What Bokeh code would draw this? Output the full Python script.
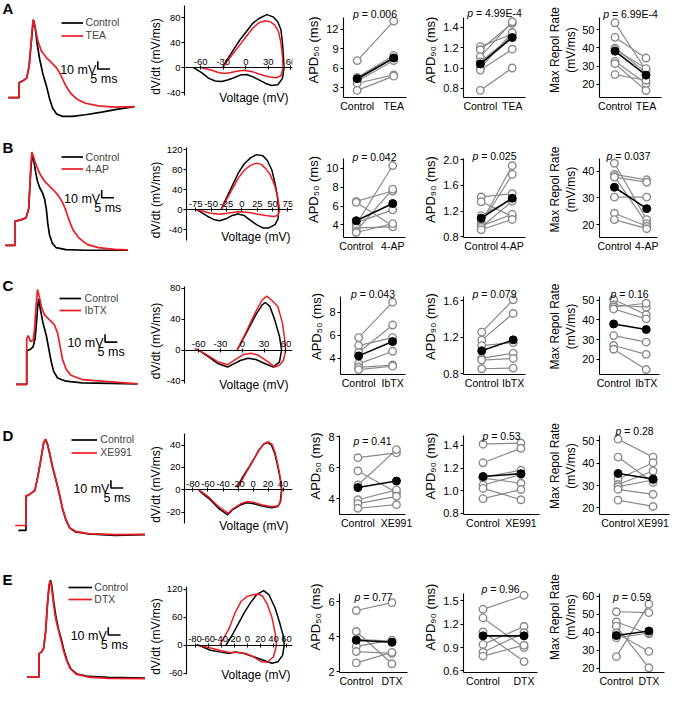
from math import pi
from bokeh.plotting import figure
from bokeh.models import (Range1d, LinearAxis, Label, FixedTicker, Legend, LegendItem,
                          PrintfTickFormatter, ColumnDataSource)
from bokeh.layouts import row, column
from bokeh.embed import file_html
from bokeh.resources import INLINE

FONT = "Liberation Sans"
BLACK = "#000000"
RED = "#ec1c24"
GRAY = "#8a8a8a"

LETTERS = ["A", "B", "C", "D", "E"]
DRUGS = ["TEA", "4-AP", "IbTX", "XE991", "DTX"]

# ---------------- action potential traces (time ms, voltage mV) ----------------
AP_A_CTRL_T = [0, 4.4, 4.4, 6.1, 7.5, 8.5, 9.2, 9.9, 10.4, 11.1, 11.7, 12.8, 14.1, 15.5, 16.8, 18.1, 19.7, 22.1, 26.1, 31.5, 38.1, 44.8, 51.5]
AP_A_CTRL_V = [-70, -70, -50.9, -48, -45, -29.3, -4.3, 18.8, 28.3, 16.6, 0, -20.9, -39.6, -54.3, -70.9, -83.4, -90.9, -93.8, -93.8, -91.8, -88.4, -84.6, -81.3]
AP_A_DRUG_T = [0, 4.4, 4.4, 6.1, 7.5, 8.5, 9.2, 9.8, 10.1, 11.1, 12.1, 13.5, 15.5, 17.5, 19.5, 20.8, 22.1, 23.5, 25.5, 28.1, 31.5, 36.8, 43.5, 51.5]
AP_A_DRUG_V = [-70, -70, -50.9, -48, -45, -29.3, -4.3, 20, 30, 17, 2, -10.5, -18.8, -25, -31.3, -37.5, -45.9, -55, -64.6, -72.1, -77.1, -80.5, -82.1, -81.3]

AP_B_CTRL_T = [-1.2, 2.8, 2.8, 4.8, 7.2, 8.3, 8.8, 9.3, 9.9, 10.4, 11.1, 11.9, 12.8, 13.9, 14.8, 15.5, 16.1, 16.8, 17.9, 19.5, 23.5, 31.5, 48.8]
AP_B_CTRL_V = [-70, -70, -38.75, -37.5, -34.6, -22.9, 6.25, 33.3, 45.8, 39.6, 25, 12.5, 4.2, -2.1, -10.4, -22.9, -41.7, -56.25, -66.7, -72.9, -75.4, -76.25, -76.25]
AP_B_DRUG_T = [-1.2, 2.8, 2.8, 4.8, 7.2, 8.3, 8.8, 9.2, 9.6, 10.1, 10.9, 11.9, 13.1, 14.8, 16.8, 18.8, 20.5, 22.1, 23.5, 24.8, 26.4, 28.8, 32.1, 36.8, 43.5, 48.8]
AP_B_DRUG_V = [-70, -70, -38.75, -37.5, -34.6, -22.9, 6.25, 35, 50, 45.8, 37.5, 29.2, 20.8, 12.5, 6.25, 0, -6.25, -14.6, -25, -37.5, -50, -60.4, -68.75, -72.9, -75, -75.8]

AP_C_CTRL_T = [3.2, 7.5, 7.5, 9.1, 10.1, 10.9, 11.5, 12, 12.4, 13.1, 14.1, 15.5, 16.5, 17.5, 18.5, 20.1, 23.5, 30.1, 52.8]
AP_C_CTRL_V = [-70, -70, -27.1, -25, -22.1, -11.7, 9.2, 30, 39.2, 25.8, 9.2, -7.5, -24.2, -40.8, -53.3, -61.7, -65.8, -67.9, -69.2]
AP_C_DRUG_T = [3.2, 7.5, 7.5, 8.1, 9.1, 10.1, 10.7, 11.2, 11.9, 12.5, 13.5, 14.8, 16.8, 18.8, 20.1, 21.1, 22.1, 23.5, 25.5, 30.1, 52.8]
AP_C_DRUG_V = [-70, -70, -11.7, -7.5, -15, -13.75, 0, 25, 51.25, 43.75, 29.2, 18.75, 12.5, 6.25, -4.2, -20.8, -37.5, -50, -58.3, -63.75, -69.2]

AP_D_CTRL_T = [4.1, 7.2, 7.2, 8.8, 10.8, 12.1, 13.5, 14.4, 15.2, 15.9, 16.8, 18.1, 19.5, 20.8, 22.1, 23.5, 25.1, 27.5, 32.8, 43.5, 56]
AP_D_CTRL_V = [-76.25, -76.25, -32.5, -30, -25.4, -6.7, 18.3, 35, 40, 35, 22.5, 3.75, -12.9, -29.6, -48.3, -62.9, -73.3, -78.3, -80.8, -82.5, -81.7]
AP_D_DRUG_T = [2.8, 7.2, 7.2, 8.8, 10.8, 12.1, 13.5, 14.4, 15.1, 15.7, 16.8, 18.1, 19.5, 20.8, 22.1, 23.5, 25.1, 27.5, 32.8, 43.5, 56]
AP_D_DRUG_V = [-70, -70, -32.5, -30, -25.4, -6.7, 18.3, 35.4, 40.4, 35.8, 23.3, 4.6, -12.1, -29.2, -47.9, -62.5, -72.9, -77.5, -80.4, -81.7, -81.25]

AP_E_CTRL_T = [7.7, 12.5, 12.5, 13.6, 14.4, 15.2, 16, 16.7, 17.2, 17.7, 18.5, 19.5, 20.5, 21.6, 22.7, 23.9, 25.5, 28.1, 32.8, 40.8, 56]
AP_E_CTRL_V = [-70, -70, -40, -37.9, -32.9, -12.9, 24.6, 47.5, 53.75, 47.5, 26.7, 5.8, -8.75, -21.25, -35.8, -48.3, -59.6, -66.25, -69.2, -70.4, -71.25]
AP_E_DRUG_T = [7.7, 12.5, 12.5, 13.6, 14.4, 15.2, 16, 16.6, 17.1, 17.6, 18.4, 19.3, 20.3, 21.3, 22.4, 23.6, 25.2, 27.7, 32.8, 40.8, 56]
AP_E_DRUG_V = [-70, -70, -40, -37.9, -32.9, -12.9, 24.6, 48, 52.5, 46.25, 24.6, 4.6, -7.9, -20.4, -34.6, -47.1, -58.75, -66.25, -70, -71.7, -72.1]

SCALE_MV = 10
SCALE_MS = 5

# ---------------- phase plots (voltage mV, dV/dt mV/ms) ----------------
PH_A_CTRL_V = [-30.4, -24.2, -15.8, -7.5, 0.8, 9.2, 17.5, 27.9, 36.25, 42.5, 46.7, 48.75, 50, 50.8, 48.75, 42.5, 34.2, 25.8, 17.5, 9.2, 0.8, -7.5, -15.8, -24.2, -32.5, -40.8, -49.2, -57.5, -65.8, -70]
PH_A_CTRL_D = [1, 14, 29.6, 45.2, 58.1, 71.1, 78.9, 85.1, 81.5, 73.7, 60.7, 40, 19.2, 0, -17.1, -27.5, -28.5, -24.9, -19.7, -14.5, -10.9, -11.9, -16.1, -19.7, -22.3, -21.3, -17.1, -9.3, -2.6, 0]
PH_A_DRUG_V = [-30.4, -24.2, -15.8, -7.5, 0.8, 9.2, 17.5, 25.8, 32.1, 38.3, 43.3, 46.7, 48.75, 49.6, 46.7, 40.4, 30, 19.6, 9.2, -3.3, -11.7, -20, -28.3, -36.7, -45, -53.3, -61.7]
PH_A_DRUG_D = [0, 11.4, 24.4, 37.4, 50.3, 63.3, 72.1, 75.3, 73.7, 68.5, 58.1, 40, 19.2, 0, -13, -16.1, -14.5, -10.9, -6.7, -4.2, -5.7, -7.8, -9.3, -7.8, -4.2, -1.6, 1]

PH_B_CTRL_V = [-33.5, -26, -16, -6, 4, 14, 24, 34, 41.5, 49, 54, 58, 60, 59, 54, 44, 34, 24, 14, 4, -6, -16, -26, -36, -46, -56, -66, -73.5]
PH_B_CTRL_D = [1.3, 20.8, 46.8, 72.8, 92.3, 104, 110.5, 108.6, 98.8, 79.3, 53.3, 27.3, 0, -18.2, -29.9, -36.4, -36.4, -29.9, -21.5, -11.7, -8.45, -11.7, -18.2, -22.1, -19.5, -13, -5.2, 0]
PH_B_DRUG_V = [-33.5, -26, -16, -6, 4, 14, 24, 31.5, 39, 46.5, 54, 59, 61.5, 59, 51.5, 39, 24, 9, -6, -21, -36, -51, -63.5, -73.5]
PH_B_DRUG_D = [0, 17.6, 40.3, 63, 79.3, 89, 93.6, 91, 82.6, 69.6, 46.8, 20.8, 0, -11.7, -13.7, -11.7, -8.45, -5.2, -3.9, -6.5, -9.1, -7.15, -2.6, 0]

PH_C_CTRL_V = [-7.1, 5.8, 18.7, 27.3, 31.6, 38, 44.5, 51, 54, 51, 42.3, 31.6, 18.7, 8, -2.8, -15.7, -20, -32.9, -45.8, -58.7, -63]
PH_C_CTRL_D = [0, 22.5, 45.8, 58.5, 61.6, 56.5, 39.4, 18.3, 0, -15.6, -22, -17.8, -12.2, -10.6, -13.5, -19.8, -22, -17.8, -9.3, -0.8, 0]
PH_C_DRUG_V = [-7.1, 5.8, 18.7, 27.3, 33.5, 40, 48.8, 55.2, 58.3, 59.6, 56.5, 51, 44.5, 35.9, 23, 12.3, 1.5, -11.4, -20, -32.9, -45.8, -58.7, -65]
PH_C_DRUG_D = [0, 24.6, 50, 64.8, 69.9, 64.8, 56.5, 35.2, 14, -0.8, -13.5, -19.8, -22, -15.6, -7.1, -4.2, -5.9, -13.5, -19.1, -15.6, -8, -0.8, 2]

PH_D_CTRL_V = [-21.25, -12.9, -4.6, 1.7, 7.9, 14.2, 19.6, 24.6, 28.75, 32.9, 36.25, 37.9, 36.25, 32.9, 24.6, 12.1, -0.4, -8.75, -17.1, -27.5, -33.75, -46, -58.75, -67, -72.5]
PH_D_CTRL_D = [2.3, 12.5, 21.2, 28.4, 35.7, 40.9, 42.3, 40, 32.8, 21.1, 9.6, 0, -10.7, -15, -16, -14.5, -12.2, -11.6, -13.6, -18, -22.3, -16.5, -7.8, -3.5, 0]
PH_D_DRUG_V = [-20, -11.5, -3.5, 2.5, 9, 15, 20.5, 25.5, 29.5, 33.5, 36.5, 38.5, 37, 33.5, 25, 12.5, 0, -8, -16.5, -27, -33, -45, -58, -66, -72.5]
PH_D_DRUG_D = [2.3, 12.8, 21.8, 29, 36.5, 41.5, 43, 40.5, 33, 21, 9.5, 0, -10, -14.2, -15.2, -13.5, -11, -10.5, -12.5, -17, -21, -15.5, -7, -3, 0]

PH_E_CTRL_V = [-32.8, -23.5, -14.1, -4.7, 4.7, 14.1, 24.9, 32.9, 42.3, 49.3, 55.4, 56.3, 54, 46.9, 37.6, 23.5, 9.4, -4.7, -18.7, -28.2, -42.3, -56.3, -70.4, -77.5]
PH_E_CTRL_D = [0, 20.9, 45.3, 69.7, 90.6, 108, 116.5, 108, 80.1, 48.8, 17.4, 0, -20.9, -34.9, -38.3, -31.4, -24.4, -17.4, -14, -17.4, -14, -10.5, -2.1, 1.5]
PH_E_DRUG_V = [-42.3, -28.2, -18.7, -9.4, 0, 9.4, 16.4, 23.5, 30.5, 37.6, 42.3, 44.6, 39.9, 30.5, 21.1, 9.4, -2.3, -14.1, -28.2, -42.3, -56.3, -70.4, -76]
PH_E_DRUG_D = [0, 34.9, 69.7, 94.1, 104.6, 108, 109.4, 104.6, 87.2, 59.2, 27.9, 0, -24.4, -36.1, -34.9, -24.4, -17.4, -15.3, -15.3, -10.5, -5.6, -1.5, 0]

PH_XTICKS = [[-60, -30, 0, 30, 60], [-75, -50, -25, 0, 25, 50, 75], [-60, -30, 0, 30, 60],
             [-80, -60, -40, -20, 0, 20, 40], [-80, -60, -40, -20, 0, 20, 40, 60]]
PH_YTICKS = [[-40, 0, 40, 80], [-40, 0, 40, 80, 120], [-40, 0, 40, 80], [-20, 0, 20, 40], [-60, 0, 60, 120]]
PH_XRANGE = [(-81.6, 62.1), (-90, 82.5), (-79.4, 69), (-91.25, 52.5), (-93, 69)]
PH_YRANGE = [(-45.2, 99.7), (-62.4, 124.9), (-43.6, 82.3), (-30.4, 50.4), (-62.8, 125.5)]

# ---------------- paired data ----------------
APD50_A_CTRL = [7.2, 4.6, 4.3, 4.0, 3.7, 2.6]
APD50_A_DRUG = [13.3, 8.0, 7.6, 7.2, 5.0, 4.8]
APD50_A_MEAN = [4.4, 7.6]
APD90_A_CTRL = [1.21, 1.18, 1.11, 1.06, 1.00, 0.98, 0.78]
APD90_A_DRUG = [1.335, 1.44, 1.455, 1.315, 1.35, 1.185, 1.0]
APD90_A_MEAN = [1.04, 1.30]
MRR_A_CTRL = [53.8, 45.8, 39.9, 39.2, 32.6, 31.3, 25.3]
MRR_A_DRUG = [27.7, 34.4, 26.4, 28.6, 20.4, 16.5, 22.2]
MRR_A_MEAN = [38.2, 25.0]

APD50_B_CTRL = [6.5, 6.4, 4.25, 4.07, 3.7, 3.37, 3.2]
APD50_B_DRUG = [7.6, 3.9, 5.6, 10.3, 3.8, 7.8, 4.14]
APD50_B_MEAN = [4.45, 6.27]
APD90_B_CTRL = [1.42, 1.345, 1.13, 1.02, 1.0, 0.97, 0.95, 0.91]
APD90_B_DRUG = [1.47, 1.12, 1.385, 1.905, 1.77, 1.15, 1.355, 1.07]
APD90_B_MEAN = [1.09, 1.40]
MRR_B_CTRL = [43.0, 38.8, 38.0, 37.8, 30.3, 24.3, 21.9]
MRR_B_DRUG = [21.9, 36.8, 20.4, 35.9, 30.3, 19.4, 18.5]
MRR_B_MEAN = [34.0, 26.0]

APD50_C_CTRL = [5.8, 5.1, 4.5, 3.5, 3.2, 3.0]
APD50_C_DRUG = [8.9, 5.8, 6.9, 4.6, 3.4, 3.3]
APD50_C_MEAN = [4.2, 5.45]
APD90_C_CTRL = [1.255, 1.167, 1.107, 0.966, 0.948, 0.853]
APD90_C_DRUG = [1.61, 1.46, 1.14, 1.025, 0.966, 0.86]
APD90_C_MEAN = [1.05, 1.17]
MRR_C_CTRL = [50.3, 47.5, 46.5, 45.5, 32.0, 27.0, 25.1]
MRR_C_DRUG = [42.6, 46.4, 48.4, 40.5, 28.7, 22.5, 14.8]
MRR_C_MEAN = [37.9, 35.1]

APD50_D_CTRL = [6.65, 5.8, 4.9, 3.95, 3.7, 3.4]
APD50_D_DRUG = [6.96, 4.42, 7.17, 4.58, 4.17, 3.63]
APD50_D_MEAN = [4.73, 5.15]
APD90_D_CTRL = [1.41, 1.246, 1.12, 1.11, 1.05, 1.02, 0.93]
APD90_D_DRUG = [1.42, 1.374, 1.18, 1.066, 1.143, 0.92, 1.01]
APD90_D_MEAN = [1.125, 1.15]
MRR_D_CTRL = [50.7, 42.7, 32.9, 30.5, 29.5, 28.3, 23.5]
MRR_D_DRUG = [42.7, 31.4, 40.2, 36.5, 32.5, 26.1, 20.7]
MRR_D_MEAN = [35.4, 32.9]

APD50_E_CTRL = [5.5, 4.3, 3.85, 3.45, 3.15, 2.5]
APD50_E_DRUG = [5.95, 2.45, 3.75, 3.8, 3.05, 3.1]
APD50_E_MEAN = [3.8, 3.68]
APD90_E_CTRL = [1.39, 1.28, 1.10, 0.94, 0.84, 0.79]
APD90_E_DRUG = [1.57, 0.90, 0.72, 1.17, 1.09, 0.93]
APD90_E_MEAN = [1.05, 1.05]
MRR_E_CTRL = [51.4, 45.7, 43.4, 39.6, 36.9, 26.5]
MRR_E_DRUG = [50.9, 39.2, 20.3, 29.4, 39.6, 55.6]
MRR_E_MEAN = [38.2, 40.7]

PVALS = [["0.006", "4.99E-4", "6.99E-4"], ["0.042", "0.025", "0.037"], ["0.043", "0.079", "0.16"],
         ["0.41", "0.53", "0.28"], ["0.77", "0.96", "0.59"]]

PAIR_TICKS = [[[3, 6, 9, 12], [0.8, 1.0, 1.2, 1.4], [20, 30, 40, 50]],
              [[4, 6, 8, 10], [0.8, 1.2, 1.6, 2.0], [20, 30, 40]],
              [[4, 6, 8], [0.8, 1.2, 1.6], [20, 30, 40, 50]],
              [[4, 6, 8], [0.8, 1.0, 1.2, 1.4], [20, 30, 40, 50]],
              [[2, 4, 6], [0.6, 0.9, 1.2, 1.5], [20, 30, 40, 50, 60]]]
PAIR_YRANGE = [[(1.5, 13.9), (0.71, 1.50), (12.7, 56.9)],
               [(2.67, 11.0), (0.79, 2.01), (15.2, 44.6)],
               [(2.57, 9.43), (0.79, 1.65), (12.3, 52.0)],
               [(3.0, 8.1), (0.79, 1.49), (17.1, 52.5)],
               [(1.95, 6.46), (0.58, 1.59), (17.7, 61.4)]]

# ---------------- layout (reference pixels) ----------------
S = 672 / 688.0
def P(v):
    return int(round(v * S))

ROW_TOP = [0, 142, 283, 425, 572, 705]
COL_X = [0, 148, 310, 430, 557, 688]
MS_PER_PX = 0.4
MV_PER_PX = 1.25
AP_BASE_Y = [99.3, 109, 110.3, 112.3, 120.3]
LEGEND_POS = [(62, 85, 88, 23, 36), (62, 85, 88, 19, 30.7), (60, 83, 87, 22, 34.3),
              (73, 100, 103, 25, 38.3), (70, 95, 97, 28, 40.7)]
SCALE_POS = [(99.3, 70), (103.3, 60), (106.7, 67), (112.7, 74), (110, 77.3)]
LETTER_Y = [8, 8, 9, 20, 20]
PH_FRAME_Y = [(5, 98), (8, 104), (10, 109), (18, 111), (28, 118)]
PH_EXT = 12
VOLT_DY = [2, -4, 1, 2, 0]
PAIR_FRAME_Y = [(17, 99), (20, 101), (20, 100), (20, 101), (35, 115.7)]
PAIR_TOP = 2
PAIR_X = [[(347, 416, 362, 402), (468, 538, 487, 523), (605, 677, 623, 659)],
          [(347, 415, 361, 401), (468, 538, 488, 523), (603, 673, 621, 660)],
          [(348, 415, 366.7, 401.7), (468, 537, 488.3, 523.3), (605, 675, 621.5, 659.5)],
          [(347, 415, 366, 405.7), (473, 552, 493.3, 532.7), (607, 685, 627.7, 666.7)],
          [(347, 417, 364.3, 401), (473, 550, 493.3, 536), (608, 680, 626.7, 662.7)]]
P_DY = [[3, 4, 3], [2.5, 3, 3], [2, 2, 2], [-6, -1, 4], [-3, 5, -3]]

CW = {'A': .667, 'P': .667, 'D': .722, 'E': .667, ' ': .278, '\u00a0': .278, '.': .278,
      '=': .584, '-': .333, '(': .333, ')': .333, 'm': .833, 's': .5, 'p': .556}
def tw(s, fs):
    return sum(CW.get(c, .556) for c in s) * fs


def base_fig(W, H, xr, yr, bl, br, bt, bb, xloc=None, yloc=None):
    p = figure(width=W, height=H, x_range=Range1d(*xr), y_range=Range1d(*yr),
               output_backend="svg", toolbar_location=None,
               x_axis_location=xloc, y_axis_location=yloc, frame_align=False,
               min_border_left=bl, min_border_right=br, min_border_top=bt, min_border_bottom=bb)
    p.xgrid.visible = False
    p.ygrid.visible = False
    p.outline_line_color = None
    p.background_fill_color = "white"
    p.border_fill_color = "white"
    return p


def style_axis(ax, fs):
    ax.axis_line_color = BLACK
    ax.axis_line_width = 1.1
    ax.major_tick_line_color = BLACK
    ax.major_tick_in = 0
    ax.major_tick_out = 3
    ax.minor_tick_line_color = None
    ax.major_label_text_font = FONT
    ax.major_label_text_font_size = fs
    ax.major_label_text_color = BLACK
    ax.major_label_standoff = 2
    ax.axis_label_text_font = FONT
    ax.axis_label_text_font_style = "normal"
    ax.axis_label_text_color = BLACK
    ax.axis_label_standoff = 2


def ap_fig(r, ct, cv, dt, dv):
    W = P(COL_X[1]) - P(COL_X[0])
    H = P(ROW_TOP[r + 1]) - P(ROW_TOP[r])
    Hr = ROW_TOP[r + 1] - ROW_TOP[r]
    yb = AP_BASE_Y[r]
    yr = (-70 - (Hr - yb) * MV_PER_PX, -70 + yb * MV_PER_PX)
    xr = ((COL_X[0] - 8) * MS_PER_PX, (COL_X[1] - 8) * MS_PER_PX)
    p = base_fig(W, H, xr, yr, 0, 0, 0, 0)
    l1 = p.line(ct, cv, line_color=BLACK, line_width=1.7)
    l2 = p.line(dt, dv, line_color=RED, line_width=1.7)
    lx0, lx1, tx, y1, y2 = LEGEND_POS[r]
    ih = (y2 - y1) * S
    leg = Legend(items=[LegendItem(label="Control", renderers=[l1]),
                        LegendItem(label=DRUGS[r], renderers=[l2])],
                 location=(lx0 * S, H - (y2 * S + ih / 2)), orientation="vertical",
                 glyph_width=int(round((lx1 - lx0) * S)), glyph_height=int(round(ih)),
                 label_height=int(round(ih)), label_standoff=int(round((tx - lx1) * S)),
                 spacing=0, padding=0, margin=0, background_fill_alpha=0,
                 border_line_color=None, label_text_font=FONT, label_text_font_size="10.5px")
    p.add_layout(leg)
    cx, cy = SCALE_POS[r]
    x0 = (cx - 8) * MS_PER_PX
    y0 = -70 + (yb - cy) * MV_PER_PX
    p.line([x0, x0, x0 + SCALE_MS], [y0 + SCALE_MV, y0, y0], line_color=BLACK, line_width=1.6)
    p.add_layout(Label(x=x0, y=y0, x_offset=-1.5, y_offset=-1, text=f"{SCALE_MV} mV",
                       text_align="right", text_baseline="alphabetic", text_font=FONT,
                       text_font_size="12.5px", text_color=BLACK))
    p.add_layout(Label(x=x0 + SCALE_MS / 2, y=y0, y_offset=-10 * S, text=f"{SCALE_MS} ms",
                       text_align="center", text_baseline="middle", text_font=FONT,
                       text_font_size="12.5px", text_color=BLACK))
    p.add_layout(Label(x=xr[0], y=yr[1], x_offset=2 * S, y_offset=-LETTER_Y[r] * S,
                       text=LETTERS[r], text_align="left", text_baseline="middle",
                       text_font=FONT, text_font_size="15px", text_font_style="bold",
                       text_color=BLACK))
    return p


def phase_fig(r, cV, cD, dV, dD):
    W = P(COL_X[2]) - P(COL_X[1])
    H = P(ROW_TOP[r + 1]) - P(ROW_TOP[r])
    fl, fr = 184, 299
    ft, fb = PH_FRAME_Y[r]
    top = ROW_TOP[r]
    xr, yr = PH_XRANGE[r], PH_YRANGE[r]
    ppu = (fb - ft) / (yr[1] - yr[0])
    y0e = yr[0] - PH_EXT / ppu
    bl = P(fl) - P(COL_X[1])
    br = P(COL_X[2]) - P(fr)
    bt = P(top + ft) - P(top)
    bb = P(ROW_TOP[r + 1]) - P(top + fb + PH_EXT)
    p = base_fig(W, H, xr, (y0e, yr[1]), bl, br, bt, bb, xloc=None, yloc="left")
    ya = p.yaxis[0]
    style_axis(ya, "9.5px")
    ya.ticker = FixedTicker(ticks=PH_YTICKS[r])
    ya.formatter = PrintfTickFormatter(format="%d")
    ya.bounds = yr
    ya.axis_label = "dV/dt (mV/ms)"
    ya.axis_label_text_font_size = "12px"
    ya.axis_label_standoff = 1
    ya.major_label_standoff = 1
    xa = LinearAxis(fixed_location=0, ticker=FixedTicker(ticks=PH_XTICKS[r]),
                    formatter=PrintfTickFormatter(format="%d"))
    style_axis(xa, "9.5px")
    xa.major_tick_out = 2
    xa.major_tick_in = 2
    xa.major_label_standoff = 1
    p.add_layout(xa, "above")
    p.line(cV, cD, line_color=BLACK, line_width=1.5)
    p.line(dV, dD, line_color=RED, line_width=1.5)
    p.add_layout(Label(x=xr[0], y=yr[0], x_offset=(255 - fl) * S, y_offset=-VOLT_DY[r] * S,
                       text="Voltage (mV)", text_align="center", text_baseline="middle",
                       text_font=FONT, text_font_size="12px", text_color=BLACK))
    return p


def paired_fig(r, k, ctrl, drug, mean):
    c0, c1 = COL_X[2 + k], COL_X[3 + k]
    fl, fr, px0, px1 = PAIR_X[r][k]
    ft, fb = PAIR_FRAME_Y[r]
    top = ROW_TOP[r]
    W = P(c1) - P(c0)
    H = P(ROW_TOP[r + 1]) - P(top)
    bl = P(fl) - P(c0)
    br = P(c1) - P(fr)
    bt = P(top + PAIR_TOP) - P(top)
    bb = P(ROW_TOP[r + 1]) - P(top + fb)
    ppu = px1 - px0
    xs = 1 - (px0 - fl) / ppu
    xe = xs + (fr - fl) / ppu
    yr = PAIR_YRANGE[r][k]
    ppuy = (fb - ft) / (yr[1] - yr[0])
    y1e = yr[1] + (ft - PAIR_TOP) / ppuy
    p = base_fig(W, H, (xs, xe), (yr[0], y1e), bl, br, bt, bb, xloc="below", yloc="left")
    ya = p.yaxis[0]
    style_axis(ya, "11px")
    ya.ticker = FixedTicker(ticks=PAIR_TICKS[r][k])
    ya.formatter = PrintfTickFormatter(format="%.1f" if k == 1 else "%d")
    ya.bounds = yr
    xa = p.xaxis[0]
    style_axis(xa, "10.5px")
    xa.major_tick_out = 0
    xa.ticker = FixedTicker(ticks=[1, 2])
    xa.major_label_overrides = {1: "Control", 2: DRUGS[r]}
    xa.major_label_standoff = 2

    if k < 2:
        ya.axis_label = "APD\u2085\u2080 (ms)" if k == 0 else "APD\u2089\u2080 (ms)"
        ya.axis_label_text_font_size = "13px"
    else:
        ya.axis_label = "(mV/ms)"
        ya.axis_label_text_font_size = "12px"
        ya.axis_label_standoff = 1
        ex = LinearAxis(ticker=FixedTicker(ticks=[]), axis_label="Max Repol Rate")
        style_axis(ex, "11px")
        ex.axis_line_color = None
        ex.major_tick_line_color = None
        ex.major_tick_out = 0
        ex.major_label_standoff = 0
        ex.axis_label_standoff = 0
        ex.axis_label_text_font_size = "12px"
        ex.bounds = yr
        p.add_layout(ex, "left")

    n = len(ctrl)
    src = ColumnDataSource(dict(x0=[1] * n, x1=[2] * n, c=ctrl, d=drug))
    p.segment(x0="x0", y0="c", x1="x1", y1="d", source=src, line_color=GRAY, line_width=1.2)
    p.scatter(x="x0", y="c", source=src, marker="circle", size=7.5, line_color=GRAY,
              fill_color="white", line_width=1.4)
    p.scatter(x="x1", y="d", source=src, marker="circle", size=7.5, line_color=GRAY,
              fill_color="white", line_width=1.4)
    p.line([1, 2], mean, line_color=BLACK, line_width=1.6)
    p.scatter([1, 2], mean, marker="circle", size=8, line_color=BLACK, fill_color=BLACK)

    # p-value
    xc = (xs + xe) / 2
    fs = 10.5
    rest = "\u00a0= " + PVALS[r][k]
    wp, wr = tw("p", fs), tw(rest, fs)
    split = -(wp + wr) / 2 + wp
    ydy = P_DY[r][k] * S
    p.add_layout(Label(x=xc, y=yr[1], x_offset=split, y_offset=ydy, text="p",
                       text_align="right", text_baseline="middle", text_font=FONT,
                       text_font_size=f"{fs}px", text_font_style="italic", text_color=BLACK))
    p.add_layout(Label(x=xc, y=yr[1], x_offset=split, y_offset=ydy, text=rest,
                       text_align="left", text_baseline="middle", text_font=FONT,
                       text_font_size=f"{fs}px", text_color=BLACK))
    return p


AP = [(AP_A_CTRL_T, AP_A_CTRL_V, AP_A_DRUG_T, AP_A_DRUG_V),
      (AP_B_CTRL_T, AP_B_CTRL_V, AP_B_DRUG_T, AP_B_DRUG_V),
      (AP_C_CTRL_T, AP_C_CTRL_V, AP_C_DRUG_T, AP_C_DRUG_V),
      (AP_D_CTRL_T, AP_D_CTRL_V, AP_D_DRUG_T, AP_D_DRUG_V),
      (AP_E_CTRL_T, AP_E_CTRL_V, AP_E_DRUG_T, AP_E_DRUG_V)]
PH = [(PH_A_CTRL_V, PH_A_CTRL_D, PH_A_DRUG_V, PH_A_DRUG_D),
      (PH_B_CTRL_V, PH_B_CTRL_D, PH_B_DRUG_V, PH_B_DRUG_D),
      (PH_C_CTRL_V, PH_C_CTRL_D, PH_C_DRUG_V, PH_C_DRUG_D),
      (PH_D_CTRL_V, PH_D_CTRL_D, PH_D_DRUG_V, PH_D_DRUG_D),
      (PH_E_CTRL_V, PH_E_CTRL_D, PH_E_DRUG_V, PH_E_DRUG_D)]
PAIRS = [[(APD50_A_CTRL, APD50_A_DRUG, APD50_A_MEAN), (APD90_A_CTRL, APD90_A_DRUG, APD90_A_MEAN), (MRR_A_CTRL, MRR_A_DRUG, MRR_A_MEAN)],
         [(APD50_B_CTRL, APD50_B_DRUG, APD50_B_MEAN), (APD90_B_CTRL, APD90_B_DRUG, APD90_B_MEAN), (MRR_B_CTRL, MRR_B_DRUG, MRR_B_MEAN)],
         [(APD50_C_CTRL, APD50_C_DRUG, APD50_C_MEAN), (APD90_C_CTRL, APD90_C_DRUG, APD90_C_MEAN), (MRR_C_CTRL, MRR_C_DRUG, MRR_C_MEAN)],
         [(APD50_D_CTRL, APD50_D_DRUG, APD50_D_MEAN), (APD90_D_CTRL, APD90_D_DRUG, APD90_D_MEAN), (MRR_D_CTRL, MRR_D_DRUG, MRR_D_MEAN)],
         [(APD50_E_CTRL, APD50_E_DRUG, APD50_E_MEAN), (APD90_E_CTRL, APD90_E_DRUG, APD90_E_MEAN), (MRR_E_CTRL, MRR_E_DRUG, MRR_E_MEAN)]]

rows = []
for r in range(5):
    figs = [ap_fig(r, *AP[r]), phase_fig(r, *PH[r])]
    for k in range(3):
        figs.append(paired_fig(r, k, *PAIRS[r][k]))
    rows.append(row(*figs, spacing=0))

layout = column(*rows, spacing=0)
open("out.html", "w").write(file_html(layout, INLINE, title="Figure"))
